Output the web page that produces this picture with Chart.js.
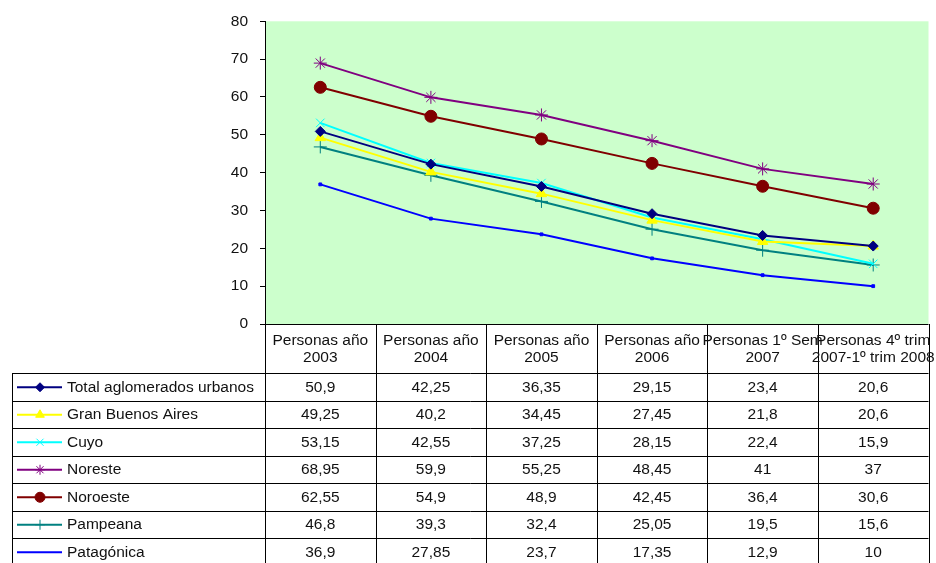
<!DOCTYPE html>
<html>
<head>
<meta charset="utf-8">
<script src="https://cdn.jsdelivr.net/npm/chart.js@4/dist/chart.umd.min.js"></script>
<style>
  html, body { margin: 0; padding: 0; background: #fff; }
  #wrap { width: 936px; height: 563px; }
</style>
</head>
<body>
<div id="wrap"><canvas id="chart" width="936" height="563"></canvas></div>
<script>
// categories (two-line headers in the table)
var periods = [
  ['Personas año', '2003'],
  ['Personas año', '2004'],
  ['Personas año', '2005'],
  ['Personas año', '2006'],
  ['Personas 1º Sem', '2007'],
  ['Personas 4º trim', '2007-1º trim 2008']
];

var totalAglomerados = [50.9, 42.25, 36.35, 29.15, 23.4, 20.6];
var granBuenosAires = [49.25, 40.2, 34.45, 27.45, 21.8, 20.6];
var cuyo = [53.15, 42.55, 37.25, 28.15, 22.4, 15.9];
var noreste = [68.95, 59.9, 55.25, 48.45, 41, 37];
var noroeste = [62.55, 54.9, 48.9, 42.45, 36.4, 30.6];
var pampeana = [46.8, 39.3, 32.4, 25.05, 19.5, 15.6];
var patagonica = [36.9, 27.85, 23.7, 17.35, 12.9, 10];

var FONT = '"Liberation Sans", Arial, sans-serif';

function serie(label, data, color, style, radius, keyRadius) {
  return {
    label: label,
    data: data,
    borderColor: color,
    backgroundColor: color,
    pointBackgroundColor: color,
    pointBorderColor: color,
    pointStyle: style,
    pointRadius: radius,
    pointHoverRadius: radius,
    pointBorderWidth: 1,
    borderWidth: 2,
    tension: 0,
    keyRadius: keyRadius
  };
}

function fmt(v) {
  return String(v).replace('.', ',');
}

// draws the data table under the plot (Excel style)
var tablePlugin = {
  id: 'dataTable',
  afterDraw: function (chart) {
    var ctx = chart.ctx;
    var area = chart.chartArea;
    var xs = chart.scales.x;
    var n = periods.length;
    var colW = (area.right - area.left) / n;
    var headTop = area.bottom;
    var headBot = 373;
    var rowH = 27.5;
    var legLeft = 12;
    var sets = chart.data.datasets;
    var bottom = headBot + rowH * sets.length;

    ctx.save();
    ctx.strokeStyle = '#000';
    ctx.lineWidth = 1;
    ctx.beginPath();
    ctx.moveTo(area.left, Math.round(headTop) + 0.5);
    ctx.lineTo(area.right, Math.round(headTop) + 0.5);
    for (var r = 0; r <= sets.length; r++) {
      var y = Math.round(headBot + r * rowH) + 0.5;
      ctx.moveTo(legLeft, y);
      ctx.lineTo(area.right, y);
    }
    for (var c = 0; c <= n; c++) {
      var x = Math.round(area.left + c * colW) + 0.5;
      ctx.moveTo(x, headTop);
      ctx.lineTo(x, bottom);
    }
    ctx.moveTo(legLeft + 0.5, headBot);
    ctx.lineTo(legLeft + 0.5, bottom);
    ctx.stroke();

    // header text
    ctx.fillStyle = '#111';
    ctx.font = '15.5px ' + FONT;
    ctx.textAlign = 'center';
    ctx.textBaseline = 'middle';
    for (var i = 0; i < n; i++) {
      var cx = xs.getPixelForValue(i);
      ctx.fillText(periods[i][0], cx, headTop + 17);
      ctx.fillText(periods[i][1], cx, headTop + 34);
    }

    // rows
    for (var s = 0; s < sets.length; s++) {
      var ds = sets[s];
      var cy = headBot + s * rowH + rowH / 2 + 0.5;
      ctx.strokeStyle = ds.borderColor;
      ctx.lineWidth = 2;
      ctx.beginPath();
      ctx.moveTo(17, cy);
      ctx.lineTo(62, cy);
      ctx.stroke();
      if (ds.keyRadius > 0) {
        ctx.fillStyle = ds.backgroundColor;
        ctx.lineWidth = 1;
        Chart.helpers.drawPoint(ctx, {
          pointStyle: ds.pointStyle,
          radius: ds.keyRadius,
          rotation: 0,
          borderWidth: 1
        }, 40, cy);
      }
      ctx.fillStyle = '#111';
      ctx.textAlign = 'left';
      ctx.fillText(ds.label, 67, cy);
      ctx.textAlign = 'center';
      for (var k = 0; k < ds.data.length; k++) {
        ctx.fillText(fmt(ds.data[k]), xs.getPixelForValue(k), cy);
      }
    }
    ctx.restore();
  }
};

var bgPlugin = {
  id: 'plotBg',
  beforeDraw: function (chart) {
    var a = chart.chartArea;
    var ctx = chart.ctx;
    ctx.save();
    ctx.fillStyle = '#CCFFCC';
    ctx.fillRect(a.left, a.top, a.right - a.left, a.bottom - a.top);
    ctx.restore();
  }
};

new Chart(document.getElementById('chart'), {
  type: 'line',
  data: {
    labels: periods,
    datasets: [
      serie('Total aglomerados urbanos', totalAglomerados, '#000080', 'rectRot', 5, 4.5),
      serie('Gran Buenos Aires', granBuenosAires, '#FFFF00', 'triangle', 6, 5),
      serie('Cuyo', cuyo, '#00FFFF', 'crossRot', 6, 5),
      serie('Noreste', noreste, '#800080', 'star', 6.5, 5),
      serie('Noroeste', noroeste, '#800000', 'circle', 6, 5),
      serie('Pampeana', pampeana, '#008080', 'cross', 6.5, 5),
      serie('Patagónica', patagonica, '#0000FF', 'rect', 2, 0)
    ]
  },
  options: {
    responsive: false,
    animation: false,
    devicePixelRatio: 1,
    layout: { padding: { top: 20, right: 6, bottom: 239, left: 0 } },
    plugins: {
      legend: { display: false },
      tooltip: { enabled: false },
      title: { display: false }
    },
    scales: {
      x: {
        type: 'category',
        offset: true,
        ticks: { display: false },
        grid: { display: false },
        border: { display: false },
        afterFit: function (scale) { scale.height = 0; }
      },
      y: {
        min: 0,
        max: 80,
        ticks: {
          stepSize: 10,
          color: '#111',
          padding: 12,
          font: { family: FONT, size: 15.5 }
        },
        grid: { drawOnChartArea: false, tickLength: 5, color: '#000' },
        border: { display: true, color: '#000', width: 1 },
        afterFit: function (scale) { scale.width = 265; }
      }
    }
  },
  plugins: [bgPlugin, tablePlugin]
});
</script>
</body>
</html>
